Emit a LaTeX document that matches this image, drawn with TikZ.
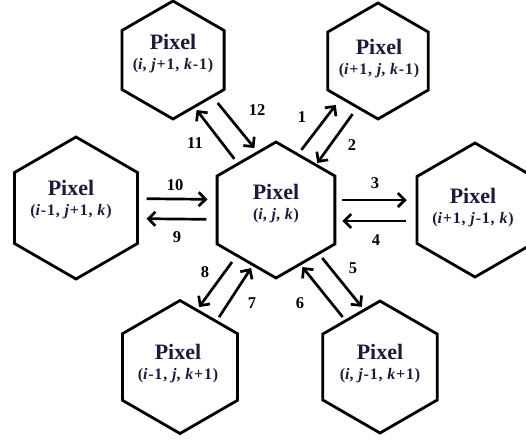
\documentclass[tikz,border=0pt]{standalone}
\usepackage{fontspec}
\setmainfont{Liberation Serif}
\usepackage{tikz}
\usetikzlibrary{shapes.geometric, arrows.meta, calc}

\definecolor{tinta}{RGB}{28,28,58}
\newcommand{\pix}{\fontsize{22}{24}\selectfont}
\newcommand{\ancho}{\addfontfeature{LetterSpace=5}}

\begin{document}
\begin{tikzpicture}[x=1pt, y=-1pt]

% Size of the whole drawing
\useasboundingbox (0,0) rectangle (526,439);

% Define styles for hexagons, texts and arrows
\tikzstyle{hexa} = [regular polygon, regular polygon sides=6, shape border rotate=30, draw=black, line width=2.8pt, fill=white, inner sep=0pt]
\tikzstyle{etiq} = [align=center, text=tinta, font=\bfseries\fontsize{16}{20}\selectfont]
\tikzstyle{flecha} = [line width=2.7pt, -{Straight Barb[length=7pt, width=14pt]}]
\tikzstyle{num} = [font=\bfseries\fontsize{16.5}{18}\selectfont]

% Hexagons
\node[hexa, minimum size=136pt, label={[etiq, yshift=6pt]center:{\pix Pixel\\\ancho(\textit{i}, \textit{j}, \textit{k})}}] (c) at (276,210) {};
\node[hexa, minimum size=118pt, label={[etiq, yshift=6pt]center:{\pix Pixel\\\ancho(\textit{i}, \textit{j}+1, \textit{k}-1)}}] (tl) at (173,60) {};
\node[hexa, minimum size=116pt, label={[etiq, yshift=2pt, xshift=1pt]center:{\pix Pixel\\\ancho(\textit{i}+1, \textit{j}, \textit{k}-1)}}] (tr) at (378,61) {};
\node[hexa, minimum size=142pt, label={[etiq, yshift=8pt, xshift=-5pt]center:{\pix Pixel\\\ancho(\textit{i}-1, \textit{j}+1, \textit{k})}}] (l) at (76,208) {};
\node[hexa, minimum size=134pt, label={[etiq, yshift=2pt, xshift=-2pt]center:{\pix Pixel\\\ancho(\textit{i}+1, \textit{j}-1, \textit{k})}}] (r) at (475,210) {};
\node[hexa, minimum size=133pt, label={[etiq, yshift=3pt, xshift=-2pt]center:{\pix Pixel\\\ancho(\textit{i}-1, \textit{j}, \textit{k}+1)}}] (bl) at (180,367) {};
\node[hexa, minimum size=132pt, label={[etiq, yshift=3pt]center:{\pix Pixel\\\ancho(\textit{i}, \textit{j}-1, \textit{k}+1)}}] (br) at (380,367) {};

% Arrows out of and into the middle pixel
\draw[flecha] ($(c)!0.354!(tr)!13pt!90:(tr)$) -- ($(c)!0.667!(tr)!10pt!90:(tr)$);
\draw[flecha] ($(c)!0.678!(tr)!9pt!-90:(tr)$) -- ($(c)!0.344!(tr)!7.5pt!-90:(tr)$);
\draw[flecha] ($(c)!0.333!(r)!10pt!90:(r)$) -- ($(c)!0.657!(r)!10pt!90:(r)$);
\draw[flecha] ($(c)!0.652!(r)!11pt!-90:(r)$) -- ($(c)!0.333!(r)!11pt!-90:(r)$);
\draw[flecha] ($(c)!0.348!(br)!12pt!90:(br)$) -- ($(c)!0.68!(br)!18pt!90:(br)$);
\draw[flecha] ($(c)!0.669!(br)!3.5pt!-90:(br)$) -- ($(c)!0.33!(br)!9.5pt!-90:(br)$);
\draw[flecha] ($(c)!0.658!(bl)!7.3pt!90:(bl)$) -- ($(c)!0.34!(bl)!9pt!90:(bl)$);
\draw[flecha] ($(c)!0.366!(bl)!10.4pt!-90:(bl)$) -- ($(c)!0.668!(bl)!15pt!-90:(bl)$);
\draw[flecha] ($(c)!0.348!(l)!10pt!90:(l)$) -- ($(c)!0.647!(l)!10pt!90:(l)$);
\draw[flecha] ($(c)!0.647!(l)!10pt!-90:(l)$) -- ($(c)!0.343!(l)!10pt!-90:(l)$);
\draw[flecha] ($(c)!0.361!(tl)!5.4pt!90:(tl)$) -- ($(c)!0.70!(tl)!8.8pt!90:(tl)$);
\draw[flecha] ($(c)!0.666!(tl)!12.5pt!-90:(tl)$) -- ($(c)!0.348!(tl)!17.3pt!-90:(tl)$);

% Arrow numbers
\node[num] (n1) at (302,117) {1};
\node[num] (n2) at (352,145) {2};
\node[num] (n3) at (375,183) {3};
\node[num] (n4) at (376,240) {4};
\node[num] (n5) at (353,268) {5};
\node[num] (n6) at (300,303) {6};
\node[num] (n7) at (252,303) {7};
\node[num] (n8) at (205,272) {8};
\node[num] (n9) at (177,237) {9};
\node[num] (n10) at (175,185) {10};
\node[num] (n11) at (195,143) {11};
\node[num] (n12) at (257,110) {12};

\end{tikzpicture}
\end{document}
